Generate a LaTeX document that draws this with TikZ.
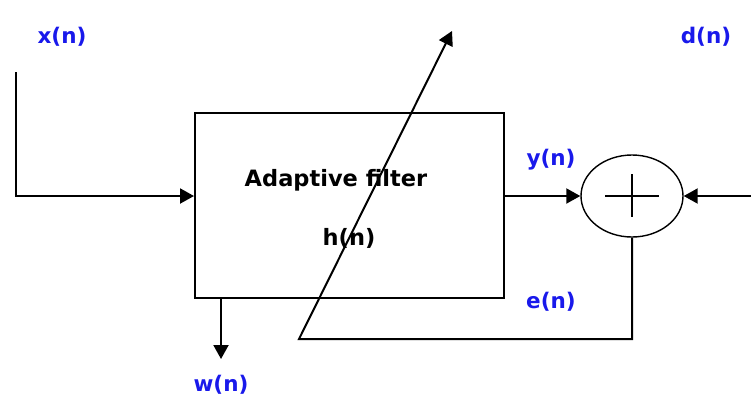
\documentclass[tikz,border=0pt]{standalone}
\usepackage{fontspec}
\setmainfont{DejaVu Sans}
\usetikzlibrary{arrows.meta,shapes.geometric}
\definecolor{lblue}{RGB}{25,25,235}
\begin{document}
\begin{tikzpicture}[x=1pt,y=-1pt, line width=2pt,
    >={Triangle[length=14pt,width=15pt]},
    lbl/.style={text=lblue, font=\fontsize{21.5}{26}\selectfont\bfseries, inner sep=0pt},
    txt/.style={font=\fontsize{22.5}{27}\selectfont\bfseries, inner sep=0pt}]
    % pixel coordinates of the 751x400 frame, y pointing down
    \useasboundingbox (0,0) rectangle (751,400);
    \node[draw, minimum width=309pt, minimum height=185pt, inner sep=0pt] (filter) at (349.5,205.5) {};
    \node[draw, ellipse, line width=1.4pt, minimum width=102pt, minimum height=82pt, inner sep=0pt] (sum) at (632,196) {};
    \draw[line width=1.5pt] ([xshift=-27pt]sum.center) -- ([xshift=27pt]sum.center);
    \draw[line width=1.5pt] ([yshift=22pt]sum.center) -- ([yshift=-21pt]sum.center);
    % texts
    \node[txt] (name) at (336,180) {Adaptive filter};
    \node[txt] (resp) at (349,238) {h(n)};
    \node[lbl] (xlab) at (62,37) {x(n)};
    \node[lbl] (dlab) at (706,37) {d(n)};
    \node[lbl] (ylab) at (551,160) {y(n)};
    \node[lbl] (elab) at (551,302) {e(n)};
    \node[lbl] (wlab) at (221,385) {w(n)};
    % signal paths
    \coordinate (xin) at (16,72);
    \coordinate (din) at (751,196);
    \coordinate (wout) at (221,359);
    \coordinate (ecorner) at (299,339);
    \coordinate (etip) at (452,31);
    \draw[->] (xin) |- (filter.west |- sum.center);
    \draw[->] (filter.east |- sum.center) -- (sum.west);
    \draw[->] (din) -- (sum.east);
    \draw[->] (filter.south -| wout) -- (wout);
    \draw[->] (sum.south) |- (ecorner) -- (etip);
  \end{tikzpicture}
\end{document}
